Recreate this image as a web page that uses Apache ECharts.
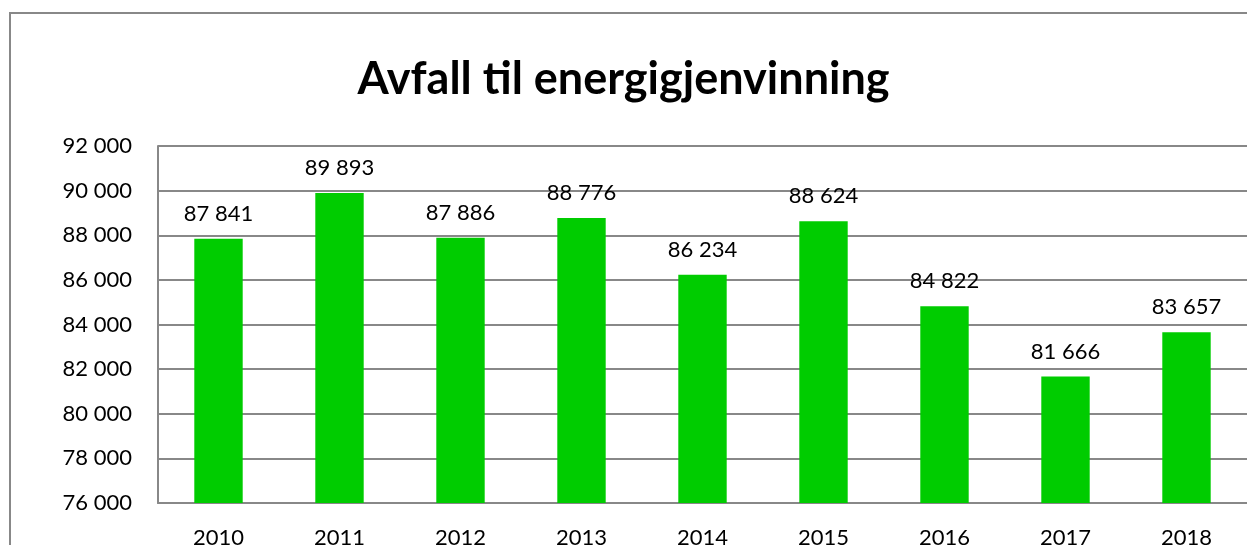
<!DOCTYPE html>
<html><head><meta charset="utf-8">
<script src="https://cdn.jsdelivr.net/npm/echarts@6/dist/echarts.min.js"></script>
<style>html,body{margin:0;padding:0;background:#fff}#c{width:1247px;height:545px}</style>
</head><body><div id="c"></div>
<script>
const categories = ['2010','2011','2012','2013','2014','2015','2016','2017','2018'];
const values = [87841, 89893, 87886, 88776, 86234, 88624, 84822, 81666, 83657];
const titleText = 'Avfall til energigjenvinning';
const fmt = v => String(v).replace(/\B(?=(\d{3})+(?!\d))/g, ' ');
const chart = echarts.init(document.getElementById('c'));
chart.setOption({
  animation: false,
  textStyle: {fontFamily: 'Lato'},
  graphic: [{type:'rect', shape:{x:10, y:13, width:1260, height:560}, style:{fill:'none', stroke:'#888', lineWidth:2}}],
  title: {text: titleText, left: 'center', top: 52, textStyle:{fontFamily:'Lato', fontSize:45, fontWeight:'bold', color:'#000'}},
  grid: {left:158, right:0, top:146, bottom:42, containLabel:false, outerBoundsMode:'none'},
  xAxis: {type:'category', data: categories,
    axisLine:{lineStyle:{color:'#888', width:2}}, axisTick:{show:false},
    axisLabel:{color:'#000', fontSize:22, margin:24}},
  yAxis: {type:'value', min:76000, max:92000, interval:2000,
    axisLine:{show:true, lineStyle:{color:'#888', width:2}}, axisTick:{show:false},
    splitLine:{lineStyle:{color:'#888', width:2}},
    axisLabel:{color:'#000', fontSize:22, margin:26, formatter: fmt}},
  series: [{type:'bar', data: values, barWidth:'40%', itemStyle:{color:'#00cc00'},
    label:{show:true, position:'top', distance:14, color:'#000', fontSize:22, formatter: p => fmt(p.value)}}]
});
</script></body></html>
